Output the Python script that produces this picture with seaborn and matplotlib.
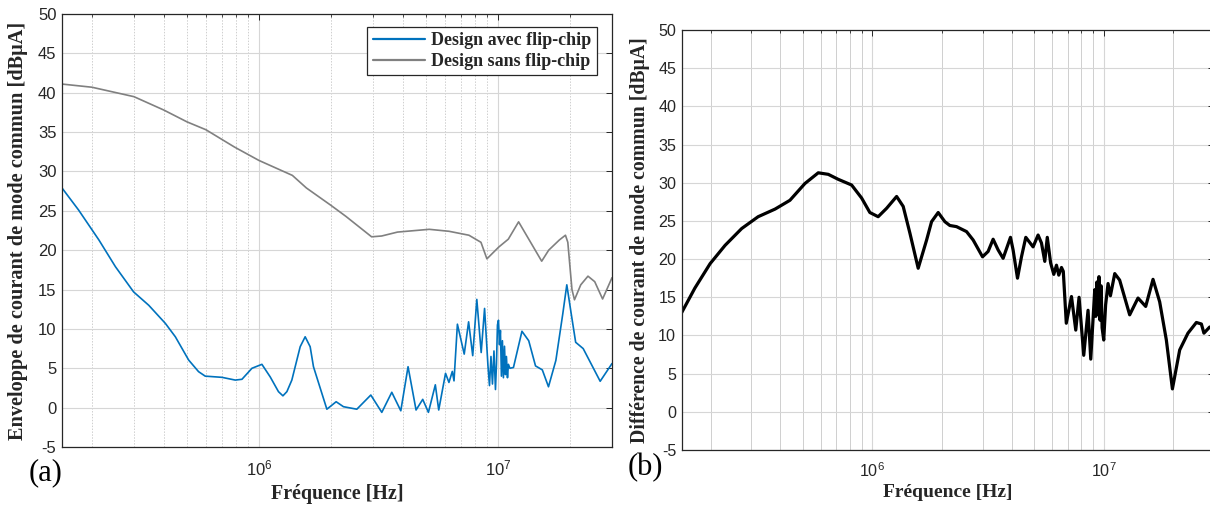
import numpy as np
import pandas as pd
import matplotlib
matplotlib.use("Agg")
import matplotlib.pyplot as plt
import seaborn as sns
from matplotlib.ticker import LogLocator, FixedLocator, FixedFormatter, NullFormatter
from matplotlib.lines import Line2D

# ---------------- data (frequency in MHz, level in dBuA) ----------------
freq_avec_mhz = [0.150, 0.176, 0.214, 0.251, 0.299, 0.346, 0.406, 0.447, 0.508, 0.559,
                 0.596, 0.700, 0.796, 0.849, 0.935, 1.029, 1.115, 1.207, 1.260, 1.309,
                 1.373, 1.488, 1.561, 1.638, 1.691, 1.924, 2.104, 2.257, 2.568, 2.938,
                 3.266, 3.596, 3.922, 4.206, 4.543, 4.845, 5.118, 5.470, 5.652, 6.035,
                 6.236, 6.442, 6.548, 6.766, 7.225, 7.537, 7.842, 8.157, 8.508, 8.790,
                 9.083, 9.216, 9.349, 9.484, 9.623, 9.763, 9.857, 9.952, 10.05, 10.15,
                 10.24, 10.34, 10.44, 10.54, 10.65, 10.75, 10.85, 10.96, 11.06, 11.22,
                 11.61, 12.60, 13.45, 14.36, 15.33, 16.27, 17.47, 18.67, 19.41, 20.26,
                 21.14, 22.73, 26.77, 30.0]
env_avec_db = [27.9, 25.1, 21.3, 17.9, 14.7, 13.0, 10.7, 9.0, 6.05, 4.57,
               4.0, 3.85, 3.5, 3.6, 5.0, 5.5, 3.9, 2.03, 1.5, 2.03,
               3.5, 7.74, 9.0, 7.74, 5.2, -0.2, 0.75, 0.12, -0.2, 1.6,
               -0.6, 1.95, -0.4, 5.2, -0.3, 1.05, -0.6, 2.9, -0.3, 4.36,
               3.2, 4.6, 3.4, 10.6, 6.8, 10.9, 6.6, 13.75, 7.0, 12.6,
               5.3, 2.8, 6.5, 3.0, 7.2, 2.3, 5.5, 10.5, 11.1, 8.0,
               9.8, 4.0, 8.5, 3.8, 7.8, 4.2, 6.5, 3.8, 5.5, 5.0,
               5.1, 9.7, 8.5, 5.3, 4.8, 2.65, 6.0, 11.9, 15.6, 11.9,
               8.3, 7.5, 3.35, 5.6]

freq_sans_mhz = [0.150, 0.200, 0.300, 0.400, 0.500, 0.600, 0.79, 1.0, 1.38, 1.58,
                 2.0, 2.31, 2.96, 3.26, 3.80, 5.16, 6.24, 7.56, 8.49, 8.99,
                 10.08, 11.05, 11.61, 12.2, 15.24, 16.3, 18.07, 19.16, 19.6, 20.4,
                 20.9, 22.2, 23.8, 25.4, 27.4, 30.0]
env_sans_db = [41.1, 40.7, 39.5, 37.8, 36.3, 35.3, 33.1, 31.4, 29.5, 27.9,
               25.7, 24.3, 21.7, 21.8, 22.3, 22.65, 22.4, 21.9, 21.0, 18.9,
               20.4, 21.4, 22.5, 23.6, 18.6, 20.0, 21.3, 21.9, 21.0, 15.0,
               13.7, 15.6, 16.7, 16.0, 13.8, 16.5]

freq_diff_mhz = [0.150, 0.171, 0.199, 0.231, 0.2725, 0.321, 0.380, 0.4405, 0.5115, 0.584,
                 0.645, 0.712, 0.814, 0.899, 0.976, 1.06, 1.153, 1.274, 1.36, 1.454,
                 1.579, 1.717, 1.804, 1.927, 2.059, 2.164, 2.313, 2.555, 2.729, 2.996,
                 3.167, 3.329, 3.499, 3.677, 3.957, 4.061, 4.243, 4.415, 4.608, 4.955,
                 5.208, 5.387, 5.567, 5.707, 5.90, 6.089, 6.254, 6.399, 6.574, 6.693,
                 6.896, 7.261, 7.578, 7.83, 8.204, 8.563, 8.797, 9.153, 9.25, 9.35,
                 9.45, 9.55, 9.65, 9.75, 9.85, 10.01, 10.2, 10.45, 10.7, 11.17,
                 11.73, 12.96, 14.08, 15.2, 16.35, 17.47, 18.67, 19.83, 21.32, 23.15,
                 25.17, 26.46, 27.14, 28.73, 30.0]
diff_db = [13.0, 16.2, 19.4, 21.8, 24.0, 25.55, 26.55, 27.7, 29.9, 31.3,
           31.1, 30.45, 29.7, 28.0, 26.1, 25.55, 26.65, 28.2, 26.9, 23.4,
           18.8, 22.5, 24.9, 26.1, 24.9, 24.4, 24.25, 23.6, 22.5, 20.3,
           21.0, 22.6, 21.2, 20.1, 22.85, 21.2, 17.5, 20.3, 22.85, 21.6,
           23.15, 22.1, 19.7, 22.85, 19.5, 18.0, 19.2, 17.9, 18.9, 18.4,
           11.6, 15.1, 10.7, 15.0, 7.4, 13.3, 6.9, 16.0, 12.5, 17.0,
           12.8, 17.7, 12.0, 16.5, 11.0, 9.4, 14.0, 16.8, 15.2, 18.1,
           17.25, 12.7, 14.9, 13.8, 17.35, 14.4, 9.4, 3.0, 8.1, 10.3,
           11.7, 11.5, 10.3, 11.1, 11.0]

series_labels = ["Design avec flip-chip", "Design sans flip-chip"]
xlabel = "Fréquence [Hz]"
ylabel_a = "Enveloppe de courant de mode commun [dBµA]"
ylabel_b = "Différence de courant de mode commun [dBµA]"
panel_labels = ["(a)", "(b)"]
y_ticks = [-5, 0, 5, 10, 15, 20, 25, 30, 35, 40, 45, 50]
x_major = [1e6, 1e7]
x_major_labels = [r"$\mathregular{10^{6}}$", r"$\mathregular{10^{7}}$"]
x_limits = (1.5e5, 3.0e7)

# ---------------- style ----------------
sns.set_theme(style="white")
plt.rcParams["font.family"] = ["Liberation Sans", "DejaVu Sans"]
plt.rcParams["axes.unicode_minus"] = False
plt.rcParams["mathtext.fontset"] = "custom"
plt.rcParams["mathtext.rm"] = "Liberation Sans"

C_BLUE = "#0072BD"
C_GREY = "#808080"
C_TXT = "#262626"
SERIF = ["Liberation Serif", "DejaVu Serif"]

W, H = 1210, 509
fig = plt.figure(figsize=(W / 100, H / 100), dpi=100)
ax1 = fig.add_axes([62 / W, 1 - 447 / H, (612 - 62) / W, (447 - 14) / H])
ax2 = fig.add_axes([681.7 / W, 1 - 450 / H, (1214 - 681.7) / W, (450 - 30) / H])

df_avec = pd.DataFrame({"f": np.array(freq_avec_mhz) * 1e6, "v": env_avec_db})
df_sans = pd.DataFrame({"f": np.array(freq_sans_mhz) * 1e6, "v": env_sans_db})
df_diff = pd.DataFrame({"f": np.array(freq_diff_mhz) * 1e6, "v": diff_db})

sns.lineplot(data=df_sans, x="f", y="v", ax=ax1, color=C_GREY, lw=1.2, legend=False)
sns.lineplot(data=df_avec, x="f", y="v", ax=ax1, color=C_BLUE, lw=1.2, legend=False)
sns.lineplot(data=df_diff, x="f", y="v", ax=ax2, color="black", lw=2.3, legend=False)


def style_axes(ax, minor_ls, tick_fs):
    ax.set_xscale("log")
    ax.set_xlim(*x_limits)
    ax.set_ylim(-5, 50)
    ax.xaxis.set_major_locator(FixedLocator(x_major))
    ax.xaxis.set_major_formatter(FixedFormatter(x_major_labels))
    ax.xaxis.set_minor_locator(LogLocator(base=10, subs=np.arange(2, 10)))
    ax.xaxis.set_minor_formatter(NullFormatter())
    ax.set_yticks(y_ticks)
    ax.set_yticklabels([str(t) for t in y_ticks])
    ax.set_axisbelow(True)
    ax.grid(True, which="major", color="#d6d6d6", lw=0.8, ls="-")
    ax.grid(True, which="minor", axis="x", color="#cfcfcf", lw=0.7, ls=minor_ls)
    ax.tick_params(which="both", direction="in", top=True, right=True,
                   colors=C_TXT, labelcolor=C_TXT, labelsize=tick_fs)
    ax.tick_params(which="major", length=4, width=0.7, pad=4)
    ax.tick_params(which="minor", length=2.5, width=0.6)
    ax.tick_params(axis="x", which="major", pad=8)
    for sp in ax.spines.values():
        sp.set_color(C_TXT)
        sp.set_linewidth(0.9)
    ax.set_xlabel("")
    ax.set_ylabel("")


style_axes(ax1, (0, (1.5, 1.5)), 12)
style_axes(ax2, "-", 11.6)

ax1.set_xlabel(xlabel, family=SERIF, weight="bold", fontsize=14.4, color=C_TXT)
ax1.set_ylabel(ylabel_a, family=SERIF, weight="bold", fontsize=14.6, color=C_TXT)
ax1.xaxis.set_label_coords(0.5, -0.086)
ax1.yaxis.set_label_coords(-0.062, 0.5)

ax2.set_xlabel(xlabel, family=SERIF, weight="bold", fontsize=14.0, color=C_TXT)
ax2.set_ylabel(ylabel_b, family=SERIF, weight="bold", fontsize=14.2, color=C_TXT)
ax2.xaxis.set_label_coords(0.5, -0.082)
ax2.yaxis.set_label_coords(-0.0596, 0.5)

handles = [Line2D([], [], color=C_BLUE, lw=1.6), Line2D([], [], color=C_GREY, lw=1.6)]
leg = ax1.legend(handles, series_labels, loc="upper right",
                 bbox_to_anchor=((597 - 62) / 550, (447 - 27) / 433),
                 borderaxespad=0, frameon=True, fancybox=False,
                 prop={"family": SERIF, "weight": "bold", "size": 13},
                 handlelength=2.9, handletextpad=0.35, labelspacing=0.2,
                 borderpad=0.3)
leg.get_frame().set_edgecolor(C_TXT)
leg.get_frame().set_linewidth(0.9)
leg.get_frame().set_alpha(1)

fig.text(46 / W, 1 - 473 / H, panel_labels[0], family=SERIF, fontsize=22,
         ha="center", va="center", color="black")
fig.text(645 / W, 1 - 468 / H, panel_labels[1], family=SERIF, fontsize=22,
         ha="center", va="center", color="black")

fig.savefig("out.png", dpi=100)
